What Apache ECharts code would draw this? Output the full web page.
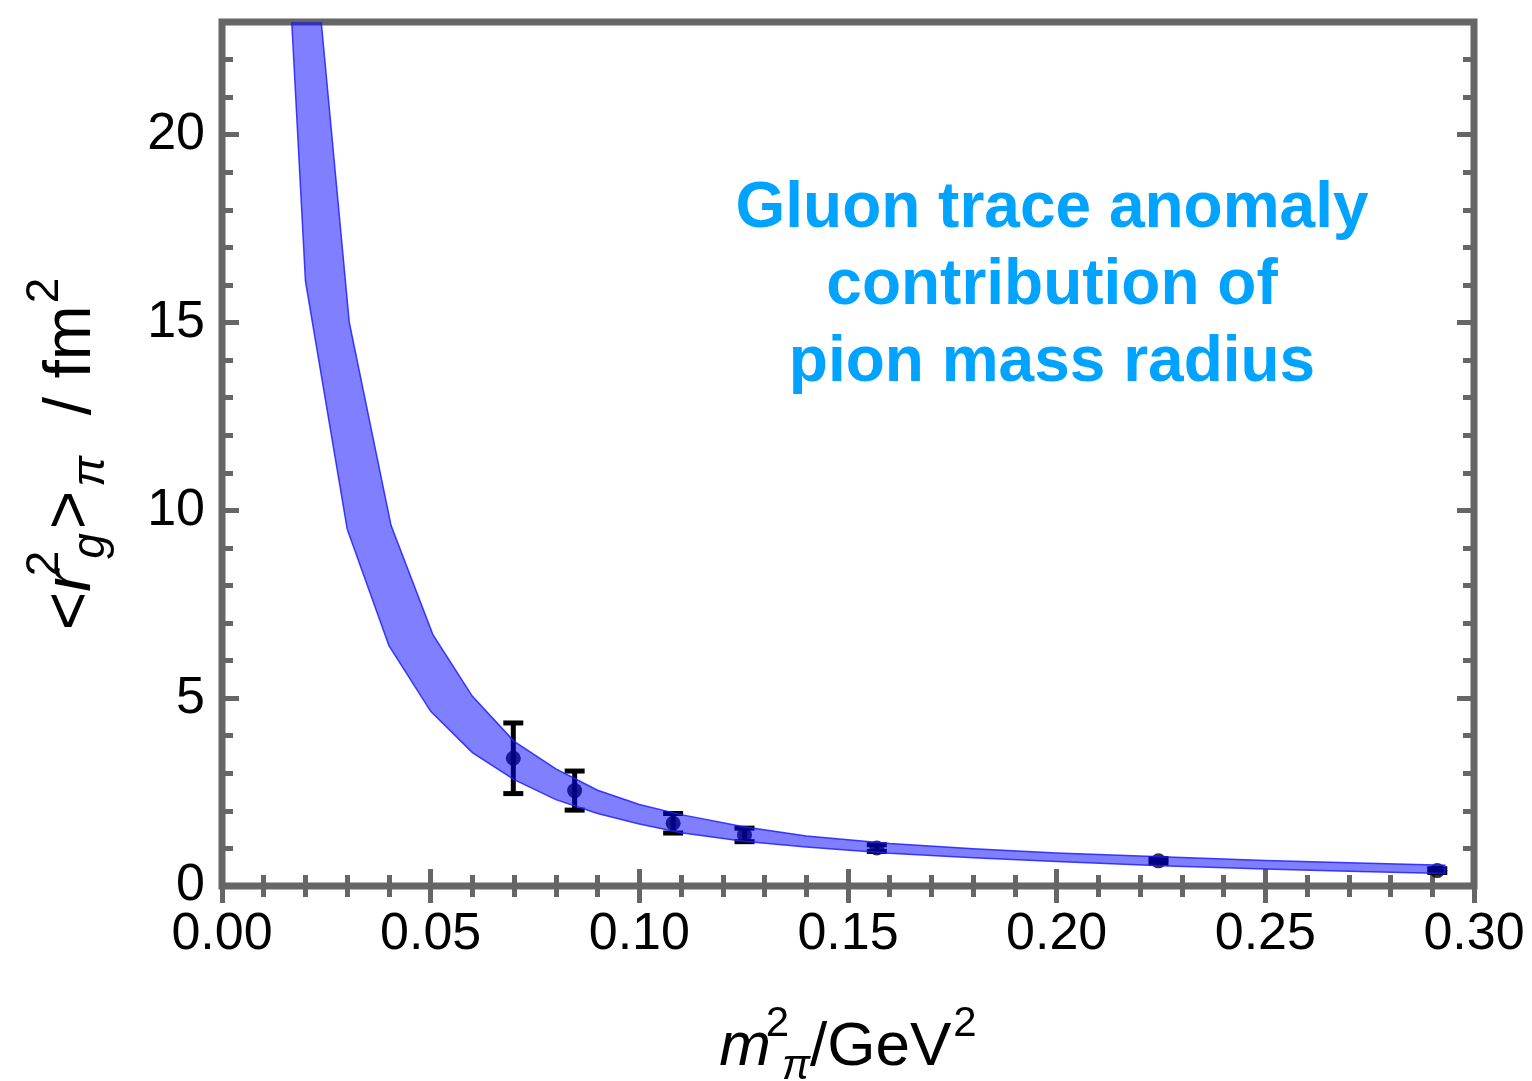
<!DOCTYPE html>
<html>
<head>
<meta charset="utf-8">
<script src="https://cdn.jsdelivr.net/npm/echarts@6/dist/echarts.min.js"></script>
<style>
html,body{margin:0;padding:0;background:#fff;}
#chart{width:1532px;height:1081px;}
</style>
</head>
<body>
<div id="chart"></div>
<script>
// ---- data ----
const pionMassSq = [0.0698, 0.0845, 0.1081, 0.1252, 0.1569, 0.2244, 0.2912];
const radiusSq   = [3.40, 2.54, 1.67, 1.36, 1.01, 0.67, 0.41];
const radiusErr  = [0.94, 0.52, 0.26, 0.18, 0.09, 0.06, 0.05];

const bandUpper = [
  [0.0200, 27.5], [0.0305, 15.0], [0.0405, 9.6], [0.0505, 6.7], [0.0600, 5.05],
  [0.0700, 3.85], [0.0800, 3.12], [0.0900, 2.55], [0.1000, 2.17], [0.1100, 1.90],
  [0.1250, 1.58], [0.1400, 1.33], [0.1600, 1.13], [0.1800, 0.99], [0.2000, 0.88],
  [0.2250, 0.78], [0.2500, 0.68], [0.2700, 0.62], [0.2930, 0.55]
];
const bandLower = [
  [0.0160, 24.5], [0.0200, 16.1], [0.0300, 9.5], [0.0400, 6.4], [0.0500, 4.65],
  [0.0600, 3.55], [0.0700, 2.83], [0.0800, 2.30], [0.0900, 1.93], [0.1000, 1.65],
  [0.1100, 1.42], [0.1250, 1.19], [0.1400, 1.04], [0.1600, 0.87], [0.1800, 0.75],
  [0.2000, 0.65], [0.2250, 0.54], [0.2500, 0.45], [0.2700, 0.39], [0.2930, 0.33]
];

const xRange = [0, 0.30];
const yRange = [0, 23];
const xMajor = 0.05;
const yMajor = 5;
const yMinor = 1;
const annotation = ['Gluon trace anomaly', 'contribution of', 'pion mass radius'];

// ---- styles ----
const FRAME = '#666666';
const FONT = '"Liberation Sans", Arial, Helvetica, sans-serif';
const tickLabel = { color: '#000', fontSize: 52, fontFamily: FONT };

const chart = echarts.init(document.getElementById('chart'), null, { renderer: 'canvas' });

function xAxisDef(pos, showLabel) {
  return {
    type: 'value', position: pos, min: xRange[0], max: xRange[1], interval: xMajor,
    axisLine: { show: false },
    axisTick: { show: true, inside: true, length: 17, lineStyle: { color: FRAME, width: 5 } },
    minorTick: { show: true, splitNumber: 5, length: 11, lineStyle: { color: FRAME, width: 5 } },
    splitLine: { show: false }, minorSplitLine: { show: false },
    axisLabel: showLabel ? Object.assign({ margin: 23, formatter: v => v.toFixed(2) }, tickLabel) : { show: false }
  };
}
function yAxisDef(pos, interval, len, showLabel) {
  return {
    type: 'value', position: pos, min: yRange[0], max: yRange[1], interval: interval,
    axisLine: { show: false },
    axisTick: { show: true, inside: true, length: len, lineStyle: { color: FRAME, width: 5 } },
    splitLine: { show: false },
    axisLabel: showLabel ? Object.assign({ margin: 17, showMaxLabel: false, formatter: v => String(v) }, tickLabel) : { show: false }
  };
}

const xAxes = [xAxisDef('bottom', true), xAxisDef('top', false)];
xAxes[0].name = '{mi|m}{sup|2}{sub|π}{t|/GeV}{sup2|2}';
xAxes[0].nameLocation = 'middle';
xAxes[0].nameGap = 117;
xAxes[0].nameMoveOverlap = false;
xAxes[0].nameTextStyle = {
  color: '#000', fontFamily: FONT, fontSize: 60,
  rich: {
    mi:   { fontSize: 62, fontStyle: 'italic', fontFamily: FONT, color: '#000', verticalAlign: 'middle' },
    sup:  { fontSize: 42, fontFamily: FONT, color: '#000', width: 1, padding: [0, 0, 48, 6], verticalAlign: 'middle' },
    sub:  { fontSize: 42, fontStyle: 'italic', fontFamily: FONT, color: '#000', padding: [38, 0, 0, 4], verticalAlign: 'middle' },
    t:    { fontSize: 62, fontFamily: FONT, color: '#000', verticalAlign: 'middle' },
    sup2: { fontSize: 42, fontFamily: FONT, color: '#000', padding: [0, 0, 48, 2], verticalAlign: 'middle' }
  }
};

const yAxes = [
  yAxisDef('left', yMajor, 17, true),
  yAxisDef('left', yMinor, 11, false),
  yAxisDef('right', yMajor, 17, false),
  yAxisDef('right', yMinor, 11, false)
];
yAxes[0].name = '{n|<}{mi|r}{sup|2}{sub|g}{n|>}{sub|π}{n|  / fm}{sup2|2}';
yAxes[0].nameLocation = 'middle';
yAxes[0].nameRotate = 90;
yAxes[0].nameGap = 100;
yAxes[0].nameMoveOverlap = false;
yAxes[0].nameTextStyle = {
  color: '#000', fontFamily: FONT, fontSize: 66,
  rich: {
    n:    { fontSize: 66, fontFamily: FONT, color: '#000', verticalAlign: 'middle' },
    mi:   { fontSize: 66, fontStyle: 'italic', fontFamily: FONT, color: '#000', verticalAlign: 'middle' },
    sup:  { fontSize: 46, fontFamily: FONT, color: '#000', width: 1, padding: [0, 0, 54, 6], verticalAlign: 'middle' },
    sub:  { fontSize: 46, fontStyle: 'italic', fontFamily: FONT, color: '#000', padding: [38, 4, 0, 4], verticalAlign: 'middle' },
    sup2: { fontSize: 46, fontFamily: FONT, color: '#000', padding: [0, 0, 54, 2], verticalAlign: 'middle' }
  }
};

const points = pionMassSq.map((x, i) => [x, radiusSq[i], radiusErr[i]]);

const option = {
  backgroundColor: '#ffffff',
  animation: false,
  grid: {
    left: 222, right: 58, top: 22, bottom: 195,
    show: true, borderColor: FRAME, borderWidth: 7, backgroundColor: 'transparent',
    containLabel: false, outerBoundsMode: 'none'
  },
  xAxis: xAxes,
  yAxis: yAxes,
  graphic: [{
    type: 'text', x: 1052, y: 286, z: 10,
    style: {
      text: annotation.join('\n'),
      font: 'bold 64px ' + FONT,
      fill: '#00a3ff',
      align: 'center', verticalAlign: 'middle',
      lineHeight: 77
    }
  }],
  series: [
    {
      type: 'custom', name: 'errorbars', z: 2, clip: true,
      data: points,
      encode: { x: 0, y: 1 },
      renderItem: function (params, api) {
        const x = api.value(0), y = api.value(1), e = api.value(2);
        const top = api.coord([x, y + e]);
        const bot = api.coord([x, y - e]);
        const hw = 10;
        const st = { stroke: '#000', lineWidth: 5 };
        return {
          type: 'group',
          children: [
            { type: 'line', shape: { x1: top[0], y1: top[1], x2: bot[0], y2: bot[1] }, style: st },
            { type: 'line', shape: { x1: top[0] - hw, y1: top[1], x2: top[0] + hw, y2: top[1] }, style: st },
            { type: 'line', shape: { x1: bot[0] - hw, y1: bot[1], x2: bot[0] + hw, y2: bot[1] }, style: st }
          ]
        };
      }
    },
    {
      type: 'scatter', name: 'points', z: 3,
      data: points.map(p => [p[0], p[1]]),
      symbol: 'circle', symbolSize: 15,
      itemStyle: { color: '#000' }
    },
    {
      type: 'custom', name: 'band', z: 4, clip: true,
      data: [0],
      renderItem: function (params, api) {
        const pts = bandUpper.map(p => api.coord(p))
          .concat(bandLower.slice().reverse().map(p => api.coord(p)));
        return {
          type: 'polygon',
          shape: { points: pts },
          style: { fill: 'rgba(0,0,255,0.5)', stroke: 'rgba(30,30,255,0.85)', lineWidth: 1.5 }
        };
      }
    }
  ]
};

chart.setOption(option);
</script>
</body>
</html>
